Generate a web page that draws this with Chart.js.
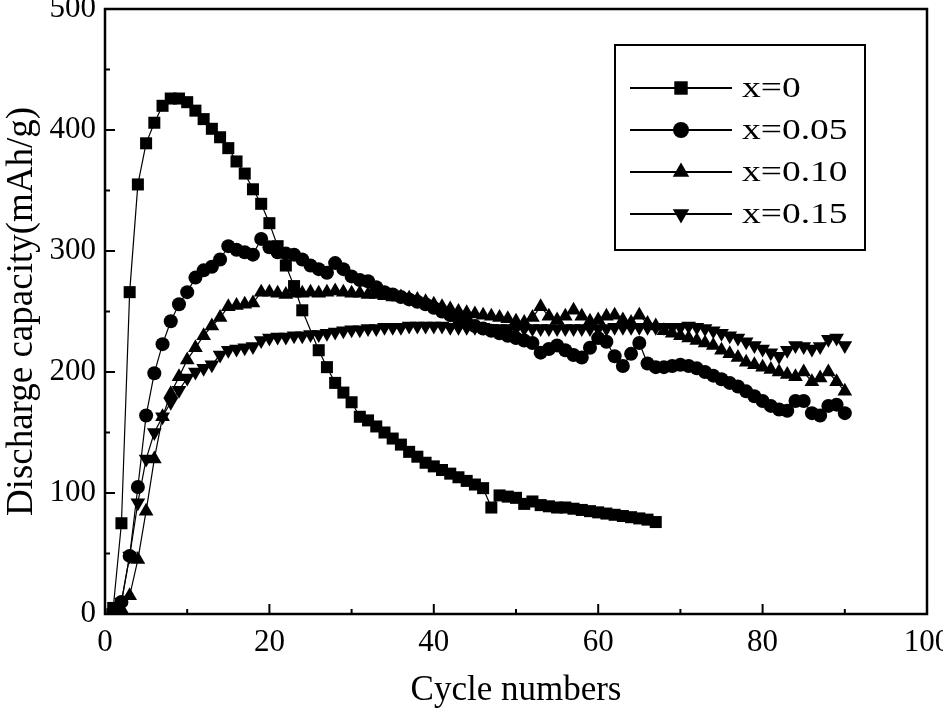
<!DOCTYPE html>
<html>
<head>
<meta charset="utf-8">
<script src="https://cdn.jsdelivr.net/npm/chart.js@4/dist/chart.umd.min.js"></script>
<style>
  html,body{margin:0;padding:0;background:#fff;}
  #wrap{width:943px;height:712px;}
</style>
</head>
<body>
<div id="wrap"><canvas id="c"></canvas></div>
<script>
// cycle numbers
var cyclesA=[1,2,3,4,5,6,7,8,9,10,11,12,13,14,15,16,17,18,19,20,21,22,23,24,26,27,28,29,30,
  31,32,33,34,35,36,37,38,39,40,41,42,43,44,45,46,47,48,49,50,51,52,53,54,55,56,57,58,59,60,
  61,62,63,64,65,66,67]
var cyclesB=[1,2,3,4,5,6,7,8,9,10,11,12,13,14,15,16,17,18,19,20,21,22,23,24,25,26,27,28,29,30,
  31,32,33,34,35,36,37,38,39,40,41,42,43,44,45,46,47,48,49,50,51,52,53,54,55,56,57,58,59,60,
  61,62,63,64,65,66,67,68,69,70,71,72,73,74,75,76,77,78,79,80,81,82,83,84,85,86,87,88,89,90]

// discharge capacity (mAh/g)
var cap_x0=[5,75,266,355,389,406,420,426,426,423,416,409,401,394,385,374,364,351,339,323,304,288,271,251,
  218,204,191,183,175,163,160,155,150,145,140,134,130,125,122,119,116,113,110,107,104,88,98,97,96,91,93,
  90,89,88,88,87,86,85,84,83,82,81,80,79,78,76]
var cap_x005=[2,10,48,105,164,199,223,242,256,266,278,284,287,293,304,301,299,297,310,303,299,298,297,293,288,
  285,282,290,285,279,276,275,270,266,264,262,260,258,256,253,250,247,244,241,238,236,234,232,230,228,
  226,224,216,219,222,218,214,212,220,228,225,213,205,215,224,207,204,204,205,206,205,203,200,197,194,
  191,188,184,180,176,172,169,168,176,176,166,164,172,173,166]
var cap_x010=[1,4,15,45,85,128,163,182,196,210,220,230,238,245,254,255,256,257,266,266,265,264,265,265,266,
  265,266,267,266,265,265,264,264,263,262,262,261,260,258,256,254,252,250,249,248,247,246,245,244,242,
  241,245,254,246,243,246,251,246,242,243,246,247,243,241,247,240,238,234,232,230,228,226,224,222,218,
  215,212,208,206,204,202,200,198,196,200,192,195,200,192,184]
var cap_x015=[1,10,48,92,128,150,163,175,185,195,200,203,206,214,218,219,220,221,226,228,229,229,230,230,231,
  231,232,233,234,235,235,236,236,237,237,237,238,238,238,238,238,237,237,237,237,237,236,236,236,236,
  236,236,236,236,236,236,236,236,236,236,236,237,237,237,237,237,237,237,237,237,238,237,236,234,232,
  230,228,225,222,219,216,213,218,222,221,219,221,227,228,222]

var labels=["x=0","x=0.05","x=0.10","x=0.15"]
var serif="'Liberation Serif','Times New Roman',serif"

function pts(xs,ys){
  return xs.map(function(c,i){return {x:c,y:ys[i]}})
}

function ds(label,xs,ys,style,r,rot){
  return {
    label:label,
    data:pts(xs,ys),
    showLine:true,
    borderColor:'#000',
    borderWidth:1.2,
    backgroundColor:'#000',
    pointStyle:style,
    pointRadius:r,
    pointRotation:rot||0,
    pointBorderWidth:0,
    pointBackgroundColor:'#000'
  }
}

// cadre + graduations vers l'interieur + legende
const frame={
  id:'frame',
  afterDraw:(chart)=>{
    const {ctx,chartArea:a,scales}=chart
    ctx.save()
    ctx.strokeStyle='#000'
    ctx.lineWidth=2.5
    ctx.strokeRect(a.left,a.top,a.right-a.left,a.bottom-a.top)
    ctx.lineWidth=2
    ctx.beginPath()
    for(var v=0;v<=100;v+=10){
      var px=scales.x.getPixelForValue(v)
      var len=(v%20==0)?10:5
      ctx.moveTo(px,a.bottom);ctx.lineTo(px,a.bottom-len)
    }
    for(var v=0;v<=500;v+=50){
      var py=scales.y.getPixelForValue(v)
      var len=(v%100==0)?10:5
      ctx.moveTo(a.left,py);ctx.lineTo(a.left+len,py)
    }
    ctx.stroke()

    // legende
    ctx.fillStyle='#fff'
    ctx.fillRect(615,45,250,205)
    ctx.lineWidth=2
    ctx.strokeRect(615,45,250,205)
    ctx.font='30px '+serif
    ctx.textBaseline='middle'
    chart.data.datasets.forEach(function(d,i){
      var y=88+i*42
      ctx.lineWidth=1.8
      ctx.beginPath();ctx.moveTo(630,y);ctx.lineTo(732,y);ctx.stroke()
      ctx.fillStyle='#000'
      Chart.helpers.drawPoint(ctx,{pointStyle:d.pointStyle,radius:d.pointRadius+1,rotation:d.pointRotation,borderWidth:0},681,y)
      ctx.save()
      ctx.translate(742,y+1)
      ctx.scale(1.25,1)
      ctx.fillText(d.label,0,0)
      ctx.restore()
    })
    ctx.restore()
  }
}

var chart=new Chart(document.getElementById('c'),{
  type:'scatter',
  data:{
    datasets:[
      ds(labels[0],cyclesA,cap_x0,'rect',8.5),
      ds(labels[1],cyclesB,cap_x005,'circle',7),
      ds(labels[2],cyclesB,cap_x010,'triangle',8.5),
      ds(labels[3],cyclesB,cap_x015,'triangle',8.5,180)
    ]
  },
  options:{
    responsive:true,
    maintainAspectRatio:false,
    animation:false,
    layout:{padding:{left:0,top:9,right:16,bottom:0}},
    plugins:{legend:{display:false},tooltip:{enabled:false}},
    scales:{
      x:{
        type:'linear',min:0,max:100,
        afterFit:(s)=>{s.height=98;s.paddingLeft=0;s.paddingRight=0},
        grid:{display:false,drawTicks:false},
        border:{display:false},
        ticks:{stepSize:20,color:'#000',padding:10,font:{family:serif,size:31}},
        title:{display:true,text:'Cycle numbers',color:'#000',font:{family:serif,size:35},padding:{top:0,bottom:0}}
      },
      y:{
        min:0,max:500,
        afterFit:(s)=>{s.width=105;s.paddingTop=0;s.paddingBottom=0},
        grid:{display:false,drawTicks:false},
        border:{display:false},
        ticks:{stepSize:100,color:'#000',padding:9,font:{family:serif,size:31}},
        title:{display:true,text:'Discharge capacity(mAh/g)',color:'#000',font:{family:serif,size:37},padding:{top:0,bottom:0}}
      }
    }
  },
  plugins:[frame]
})
</script>
</body>
</html>
